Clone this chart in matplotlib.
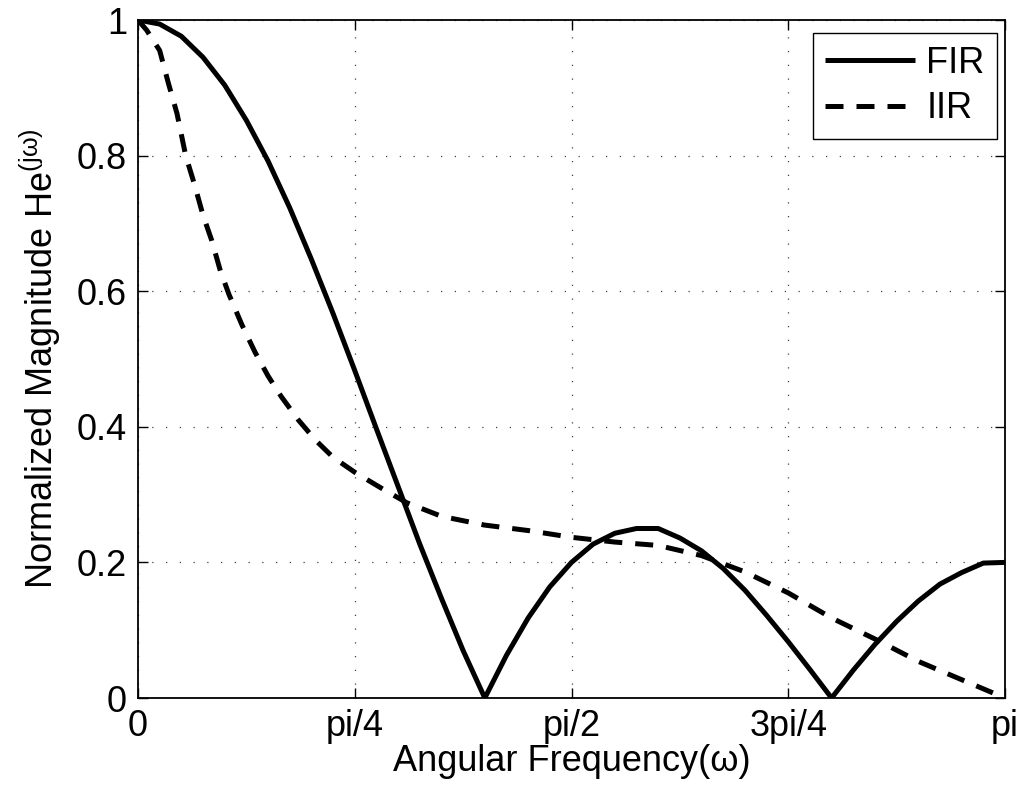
import numpy as np
import matplotlib
matplotlib.use('Agg')
import matplotlib.pyplot as plt

# frequencies in units of pi
fir_w = [0.0, 0.025, 0.05, 0.075, 0.10, 0.125, 0.15, 0.175, 0.20, 0.225, 0.25,
         0.275, 0.30, 0.325, 0.35, 0.375, 0.40, 0.425, 0.45, 0.475, 0.50, 0.525,
         0.55, 0.575, 0.60, 0.625, 0.65, 0.675, 0.70, 0.725, 0.75, 0.775, 0.80,
         0.825, 0.85, 0.875, 0.90, 0.925, 0.95, 0.975, 1.0]
fir_mag = [1.0, 0.994, 0.976, 0.945, 0.904, 0.852, 0.792, 0.723, 0.647, 0.567, 0.483,
           0.397, 0.312, 0.227, 0.147, 0.070, 0.0, 0.063, 0.118, 0.164, 0.200, 0.227,
           0.243, 0.250, 0.250, 0.236, 0.217, 0.191, 0.159, 0.122, 0.083, 0.042, 0.0,
           0.041, 0.079, 0.113, 0.143, 0.168, 0.185, 0.199, 0.200]

iir_w = [0.0, 0.01, 0.025, 0.035, 0.045, 0.055, 0.065, 0.075, 0.085, 0.095, 0.105,
         0.12, 0.135, 0.15, 0.165, 0.185, 0.205, 0.225, 0.25, 0.28, 0.31, 0.35,
         0.40, 0.45, 0.50, 0.55, 0.60, 0.65, 0.70, 0.75, 0.80, 0.85, 0.90, 0.95, 1.0]
iir_mag = [1.0, 0.985, 0.955, 0.907, 0.862, 0.80, 0.758, 0.712, 0.675, 0.63, 0.595,
           0.55, 0.51, 0.475, 0.445, 0.41, 0.38, 0.355, 0.333, 0.31, 0.288, 0.268,
           0.255, 0.247, 0.237, 0.230, 0.225, 0.210, 0.186, 0.155, 0.118, 0.087, 0.054, 0.027, 0.0]

xtick_pos = [0, 0.25, 0.5, 0.75, 1.0]
xtick_labels = ['0', 'pi/4', 'pi/2', '3pi/4', 'pi']
ytick_pos = [0, 0.2, 0.4, 0.6, 0.8, 1.0]
ytick_labels = ['0', '0.2', '0.4', '0.6', '0.8', '1']

plt.rcParams['font.family'] = ['Liberation Sans', 'DejaVu Sans']
plt.rcParams['mathtext.fontset'] = 'custom'
plt.rcParams['mathtext.rm'] = 'Liberation Sans'
plt.rcParams['mathtext.it'] = 'Liberation Sans'

fs = 26

fig = plt.figure(figsize=(10.27, 7.92), dpi=100)
ax = fig.add_axes([138 / 1027, 1 - 698 / 792, 867 / 1027, 678 / 792])

w_fir = np.pi * np.array(fir_w)
w_iir = np.pi * np.array(iir_w)
ax.plot(w_fir, fir_mag, color='black', linewidth=3.6, solid_capstyle='butt', label='FIR')
ax.plot(w_iir, iir_mag, color='black', linewidth=3.6, linestyle=(0, (3.6, 2.6)),
        dash_capstyle='butt', label='IIR')

ax.set_xlim(0, np.pi)
ax.set_ylim(0, 1)
ax.set_xticks(np.pi * np.array(xtick_pos))
ax.set_xticklabels(xtick_labels)
ax.set_yticks(ytick_pos)
ax.set_yticklabels(ytick_labels)
ax.tick_params(direction='in', length=7, width=1, labelsize=fs, top=True, right=True)
ax.tick_params(axis='x', pad=8)
ax.tick_params(axis='y', pad=8)
for s in ax.spines.values():
    s.set_linewidth(1.3)

ax.grid(True, color='#404040', linestyle=(0, (1, 10)), linewidth=0.9)

ax.set_xlabel('Angular Frequency(\u03c9)', fontsize=fs, labelpad=0)
ax.set_ylabel(r'Normalized Magnitude He$^{(\mathrm{j\omega})}$', fontsize=fs, labelpad=10)

leg = ax.legend(loc='upper right', bbox_to_anchor=(0.991, 0.981), borderaxespad=0,
                fontsize=fs, handlelength=2.5, handletextpad=0.3, labelspacing=0.3,
                borderpad=0.35, fancybox=False, framealpha=1, edgecolor='black')
leg.get_frame().set_linewidth(1.0)

fig.savefig('out.png', dpi=100)
